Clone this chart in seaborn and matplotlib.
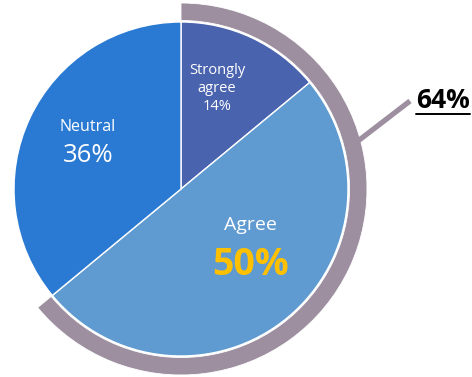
import matplotlib
matplotlib.use("Agg")
import matplotlib.pyplot as plt
from matplotlib.patches import Wedge
import seaborn as sns

# Data
categories = ["Strongly agree", "Agree", "Neutral"]
values = [14, 50, 36]
colors = ["#4A63AE", "#5F9BD0", "#2A7AD3"]
combined_label = "64%"
combined_share = values[0] + values[1]

sns.set_theme(style="white")
plt.rcParams["font.family"] = ["Open Sans", "DejaVu Sans"]

W, H = 472, 377
fig = plt.figure(figsize=(W / 100, H / 100), dpi=100)
ax = fig.add_axes([0, 0, 1, 1])

def Y(py):
    return H - py

cx, cy = 181, Y(189)
R = 167

ax.pie(values, colors=colors, startangle=90, counterclock=False,
       center=(cx, cy), radius=R,
       wedgeprops=dict(edgecolor="white", linewidth=1.0), frame=True)
ax.set_xlim(0, W)
ax.set_ylim(0, H)
ax.set_aspect("equal")
ax.axis("off")

arc_col = "#9D8FA0"
span = combined_share / 100 * 360
arc = Wedge((cx, cy), 186, 90 - span, 90, width=17.5,
            facecolor=arc_col, edgecolor="white", linewidth=0.6)
ax.add_patch(arc)

# leader line
ax.plot([358, 410], [Y(141), Y(101)], color=arc_col, lw=3.8,
        solid_capstyle="butt")
ax.text(416, Y(101), combined_label, fontsize=19, fontweight="bold",
        color="black", ha="left", va="center")
ax.plot([416, 470], [Y(114), Y(114)], color="black", lw=1.4)

# slice labels
ax.text(217, Y(71), "Strongly", fontsize=10.5, color="white", ha="center", va="center")
ax.text(217, Y(89), "agree", fontsize=10.5, color="white", ha="center", va="center")
ax.text(217, Y(107), f"{values[0]}%", fontsize=10.5, color="white", ha="center", va="center")

ax.text(88, Y(127), categories[2], fontsize=11.5, color="white", ha="center", va="center")
ax.text(88, Y(156), f"{values[2]}%", fontsize=18.5, color="white", ha="center", va="center")

ax.text(250, Y(225), categories[1], fontsize=14, color="white", ha="center", va="center")
ax.text(250, Y(265), f"{values[1]}%", fontsize=27, fontweight="bold",
        color="#FFC000", ha="center", va="center")

fig.savefig("out.png", dpi=100, facecolor="white")
